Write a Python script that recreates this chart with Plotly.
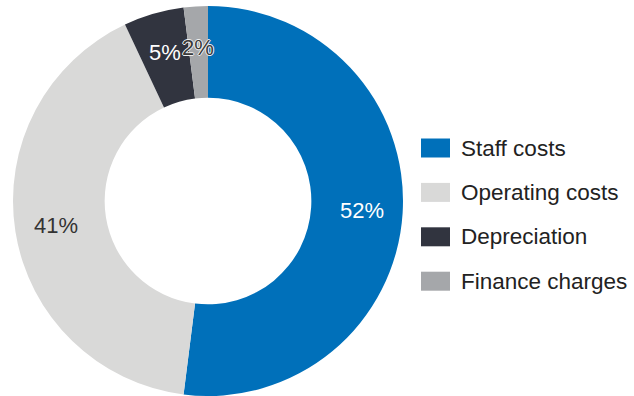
import math
import plotly.graph_objects as go

# Cost breakdown (share of total, %)
categories = ["Staff costs", "Operating costs", "Depreciation", "Finance charges"]
shares = [52, 41, 5, 2]
colors = ["#0070BA", "#D9D9D8", "#31343F", "#A5A7AA"]
label_colors = ["#FFFFFF", "#333333", "#FFFFFF", "#3A3A3A"]
label_halo = [False, False, False, True]

W, H = 634, 396
FONT = "Liberation Sans, Arial, Helvetica, sans-serif"
HALO = "1px 0 0 #eee, -1px 0 0 #eee, 0 1px 0 #eee, 0 -1px 0 #eee"

# Donut geometry (pixels)
CX, CY, R_OUT, HOLE = 208, 201, 195, 0.53
dom_x = [(CX - R_OUT) / W, (CX + R_OUT) / W]
dom_y = [(H - CY - R_OUT) / H, (H - CY + R_OUT) / H]

fig = go.Figure(
    go.Pie(
        labels=categories,
        values=shares,
        sort=False,
        direction="clockwise",
        rotation=0,
        hole=HOLE,
        marker=dict(colors=colors, line=dict(width=0)),
        textinfo="none",
        domain=dict(x=dom_x, y=dom_y),
        showlegend=False,
        hoverinfo="label+percent",
    )
)

annotations, shapes = [], []

# Percentage labels at the middle of each ring segment
total = sum(shares)
r_label = R_OUT * (1 + HOLE) / 2 + 5
cum = 0
for v, tc, halo in zip(shares, label_colors, label_halo):
    ang = math.radians(360 * (cum + v / 2) / total)
    cum += v
    px = CX + r_label * math.sin(ang)
    py = CY - r_label * math.cos(ang)
    font = dict(family=FONT, size=22, color=tc)
    if halo:
        font["shadow"] = HALO
    annotations.append(dict(
        text=f"{v}%", xref="paper", yref="paper",
        x=px / W, y=1 - py / H, xanchor="center", yanchor="middle",
        showarrow=False, font=font,
    ))

# Legend: wide swatches with labels, stacked down the right side
row_top, row_step = 148, 44.4
for i, (name, col) in enumerate(zip(categories, colors)):
    yc = row_top + i * row_step
    shapes.append(dict(
        type="rect", xref="paper", yref="paper",
        x0=421 / W, x1=450 / W,
        y0=1 - (yc + 9.5) / H, y1=1 - (yc - 9.5) / H,
        fillcolor=col, line=dict(width=0),
    ))
    annotations.append(dict(
        text=name, xref="paper", yref="paper",
        x=459 / W, y=1 - yc / H, xanchor="left", yanchor="middle",
        showarrow=False, font=dict(family=FONT, size=22.5, color="#222222"),
    ))

fig.update_layout(
    width=W, height=H,
    margin=dict(l=0, r=0, t=0, b=0),
    paper_bgcolor="white", plot_bgcolor="white",
    shapes=shapes, annotations=annotations,
)

fig.write_html("out.html")
